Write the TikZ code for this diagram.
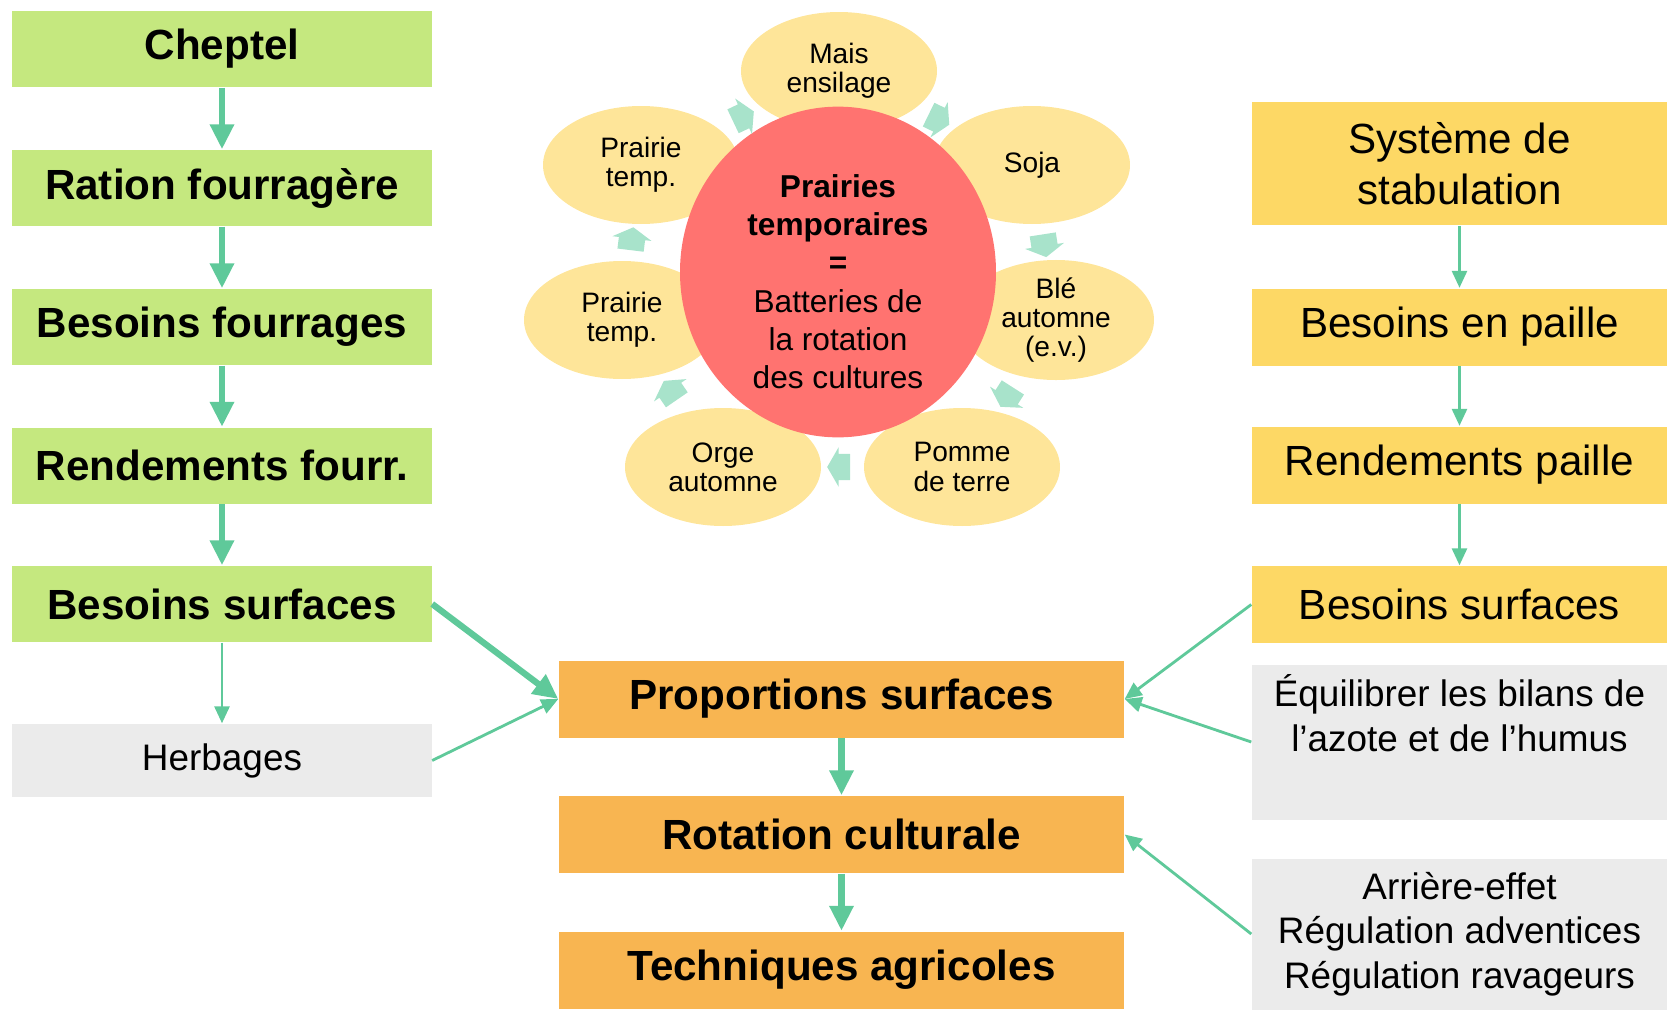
\documentclass[tikz,border=0pt]{standalone}
\usepackage{fontspec}
\setmainfont{Liberation Sans}
\definecolor{rtgreen}{HTML}{C5E87F}
\definecolor{rtorange}{HTML}{F8B551}
\definecolor{rtyellow}{HTML}{FDD865}
\definecolor{rtgrey}{HTML}{EBEBEB}
\definecolor{rtpetal}{HTML}{FEE599}
\definecolor{rtred}{HTML}{FF7370}
\definecolor{rtarrow}{HTML}{5FC99A}
\definecolor{rtmint}{HTML}{A8E3CB}
\usepackage{tikz}
\usetikzlibrary{arrows.meta,shapes.geometric,shapes.arrows}

\begin{document}
\begin{tikzpicture}[
  lbox/.style={fill=rtgreen,minimum width=4.19cm,minimum height=0.76cm,inner sep=0pt,font=\fontsize{12}{14.5}\selectfont\bfseries},
  cbox/.style={fill=rtorange,minimum width=5.65cm,minimum height=0.77cm,inner sep=0pt,font=\fontsize{12}{14.5}\selectfont\bfseries},
  rbox/.style={fill=rtyellow,minimum width=4.15cm,minimum height=0.77cm,inner sep=0pt,align=center,font=\fontsize{12}{14.5}\selectfont},
  note/.style={fill=rtgrey,minimum width=4.15cm,inner sep=0pt,align=center,font=\fontsize{10.5}{12.7}\selectfont},
  petal/.style={ellipse,fill=rtpetal,minimum width=1.96cm,minimum height=1.18cm,inner sep=0pt,align=center,font=\fontsize{8}{8.3}\selectfont},
  hub/.style={ellipse,fill=rtred,minimum width=3.16cm,minimum height=3.06cm,inner sep=0pt,align=center,font=\fontsize{9}{10.9}\selectfont},
  flow/.style={single arrow,fill=rtmint,inner xsep=0pt,inner ysep=0.125cm,minimum height=0.23cm,minimum width=0pt,
    single arrow head extend=0.065cm,single arrow tip angle=120,sloped,allow upside down},
  ar/.style={-{Triangle[length=2.5mm,width=2.3mm]},rtarrow,line width=1.8pt},
  tn/.style={-{Triangle[length=1.7mm,width=1.5mm]},rtarrow,line width=0.8pt}]
\useasboundingbox (0,0) rectangle (16.67,10.09);
\node[lbox] (cheptel) at (2.22,9.60) {Cheptel};
\node[lbox] (ration) at (2.22,8.21) {Ration fourragère};
\node[lbox] (besfour) at (2.22,6.82) {Besoins fourrages};
\node[lbox] (rendfour) at (2.22,5.435) {Rendements fourr.};
\node[lbox] (bessurfL) at (2.22,4.05) {Besoins surfaces};
\node[note,minimum width=4.19cm,minimum height=0.73cm] (herbages) at (2.22,2.485) {Herbages};
\node[cbox] (prop) at (8.415,3.10) {Proportions surfaces};
\node[cbox] (rotation) at (8.415,1.745) {Rotation culturale};
\node[cbox] (techniques) at (8.415,0.39) {Techniques agricoles};
\node[rbox,minimum height=1.23cm] (systeme) at (14.595,8.455) {Système de\\stabulation};
\node[rbox] (paille) at (14.595,6.82) {Besoins en paille};
\node[rbox] (rendpaille) at (14.595,5.44) {Rendements paille};
\node[rbox] (bessurfR) at (14.595,4.045) {Besoins surfaces};
\node[note,minimum height=1.55cm] (equil) at (14.595,2.67) {Équilibrer les bilans de\\l’azote et de l’humus\\\strut};
\node[note,minimum height=1.51cm] (arriere) at (14.595,0.75) {Arrière-effet\\Régulation adventices\\Régulation ravageurs};
\node[petal] (mais) at (8.39,9.38) {Mais\\ensilage};
\node[petal] (soja) at (10.32,8.44) {Soja};
\node[petal] (ble) at (10.56,6.89) {Blé\\automne\\(e.v.)};
\node[petal] (pomme) at (9.62,5.42) {Pomme\\de terre};
\node[petal] (orge) at (7.23,5.42) {Orge\\automne};
\node[petal] (prairieB) at (6.22,6.89) {Prairie\\temp.};
\node[petal] (prairieA) at (6.41,8.44) {Prairie\\temp.};
\node[hub] (hub) at (8.38,7.37) {\rule{0pt}{0.42cm}\textbf{Prairies}\\\textbf{temporaires}\\\textbf{=}\\Batteries de\\la rotation\\des cultures};
\path (prairieA) -- node[flow] {} (mais);
\path (mais) -- node[flow] {} (soja);
\path (soja) -- node[flow] {} (ble);
\path (ble) -- node[flow] {} (pomme);
\path (pomme) -- node[flow] {} (orge);
\path (orge) -- node[flow] {} (prairieB);
\path (prairieB) -- node[flow] {} (prairieA);
\draw[ar] (cheptel) -- (ration);
\draw[ar] (ration) -- (besfour);
\draw[ar] (besfour) -- (rendfour);
\draw[ar] (rendfour) -- (bessurfL);
\draw[tn] (bessurfL) -- (herbages);
\draw[ar] (bessurfL.east) -- (prop.west);
\draw[tn] (herbages.east) -- (prop.west);
\draw[ar] (prop) -- (rotation);
\draw[ar] (rotation) -- (techniques);
\draw[tn] (systeme) -- (paille);
\draw[tn] (paille) -- (rendpaille);
\draw[tn] (rendpaille) -- (bessurfR);
\draw[tn] (bessurfR.west) -- (prop.east);
\draw[tn] (equil.west) -- (prop.east);
\draw[tn] (arriere.west) -- (rotation.east);
\end{tikzpicture}
\end{document}
